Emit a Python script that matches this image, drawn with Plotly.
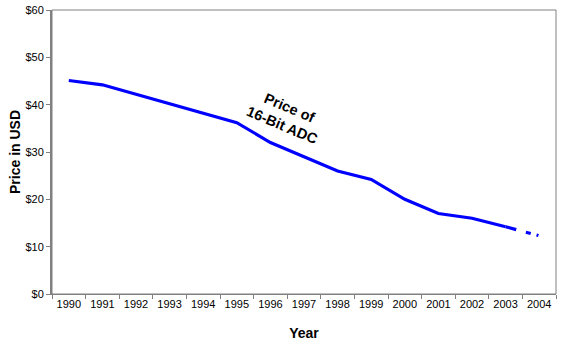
import plotly.graph_objects as go

# Data
years = [1990, 1991, 1992, 1993, 1994, 1995, 1996, 1997, 1998, 1999, 2000, 2001, 2002, 2003]
prices = [45.1, 44.2, 42.2, 40.2, 38.2, 36.2, 32.0, 29.0, 26.0, 24.2, 20.0, 17.0, 16.0, 14.2]
proj_years = [2003, 2004]
proj_prices = [14.2, 12.3]
tick_years = [1990, 1991, 1992, 1993, 1994, 1995, 1996, 1997, 1998, 1999,
              2000, 2001, 2002, 2003, 2004]
tick_labels = [str(y) for y in tick_years]
y_ticks = [0, 10, 20, 30, 40, 50, 60]
y_labels = ["$" + str(v) for v in y_ticks]

FONT = "Arial, 'Liberation Sans', sans-serif"
BLUE = "#0000FF"
GRAY = "#808080"

fig = go.Figure()
fig.add_trace(go.Scatter(x=years, y=prices, mode="lines",
                         line=dict(color=BLUE, width=3.2), showlegend=False,
                         hoverinfo="skip"))
fig.add_trace(go.Scatter(x=proj_years, y=proj_prices, mode="lines",
                         line=dict(color=BLUE, width=3.2, dash="11px,10px,5px,6px,2px"),
                         showlegend=False, hoverinfo="skip"))

fig.add_annotation(x=1996.45, y=37.4, xref="x", yref="y",
                   text="<b>Price of<br>16-Bit ADC</b>", showarrow=False,
                   textangle=23, font=dict(family=FONT, size=14.5, color="black"))

fig.update_layout(
    width=568, height=344,
    margin=dict(l=52, r=12, t=10, b=50),
    paper_bgcolor="white", plot_bgcolor="white",
    font=dict(family=FONT, color="black"),
    shapes=[dict(type="rect", xref="paper", yref="paper", x0=0, y0=0, x1=1, y1=1,
                 line=dict(color=GRAY, width=1), layer="below")],
)

fig.update_xaxes(
    range=[1989.5, 2004.5], tickmode="array", tickvals=tick_years, ticktext=tick_labels,
    ticks="", showgrid=False, zeroline=False, automargin=False,
    showline=True, linecolor=GRAY, linewidth=1,
    tickfont=dict(family=FONT, size=11, color="black"),
    minor=dict(tickmode="array", tickvals=[y - 0.5 for y in tick_years] + [2004.5],
               ticks="outside", ticklen=4, tickcolor=GRAY, tickwidth=1, showgrid=False),
    title=dict(text="<b>Year</b>", font=dict(family=FONT, size=14, color="black"), standoff=18),
)
fig.update_yaxes(
    range=[0, 60], tickmode="array", tickvals=y_ticks, ticktext=y_labels,
    ticks="outside", ticklen=4, tickcolor=GRAY, tickwidth=1,
    showgrid=False, zeroline=False, automargin=False,
    showline=True, linecolor=GRAY, linewidth=2,
    tickfont=dict(family=FONT, size=11, color="black"),
    title=dict(text="<b>Price in USD</b>", font=dict(family=FONT, size=14, color="black"), standoff=2),
)

fig.write_html("out.html")
